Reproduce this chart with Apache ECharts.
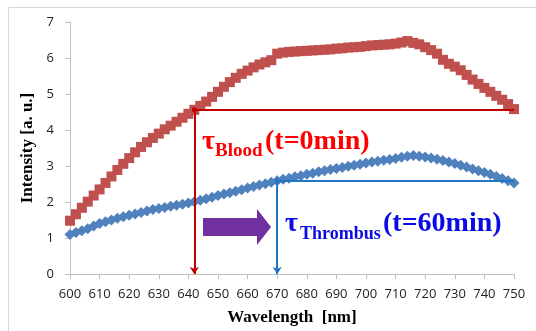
<!DOCTYPE html>
<html>
<head>
<meta charset="utf-8">
<script src="https://cdn.jsdelivr.net/npm/echarts@6/dist/echarts.min.js"></script>
<style>
html,body{margin:0;padding:0;background:#fff;}
#chart{width:536px;height:331px;}
</style>
</head>
<body>
<div id="chart"></div>
<script>
// Wavelength (nm)
var wavelengths = [600,602,604,606,608,610,612,614,616,618,620,622,624,626,628,630,632,634,636,638,640,642,644,646,648,650,652,654,656,658,660,662,664,666,668,670,672,674,676,678,680,682,684,686,688,690,692,694,696,698,700,702,704,706,708,710,712,714,716,718,720,722,724,726,728,730,732,734,736,738,740,742,744,746,748,750];
// Blood (t=0 min) intensity
var bloodValues = [1.48,1.66,1.84,2.01,2.18,2.35,2.53,2.71,2.89,3.06,3.22,3.38,3.53,3.66,3.78,3.90,4.02,4.12,4.23,4.34,4.45,4.56,4.67,4.79,4.92,5.06,5.20,5.33,5.45,5.56,5.65,5.74,5.82,5.88,5.94,6.12,6.15,6.17,6.18,6.19,6.20,6.21,6.22,6.23,6.24,6.26,6.27,6.29,6.30,6.31,6.33,6.35,6.36,6.37,6.38,6.40,6.43,6.47,6.42,6.38,6.30,6.22,6.12,5.95,5.84,5.76,5.66,5.53,5.40,5.28,5.17,5.06,4.95,4.84,4.72,4.58];
// Thrombus (t=60 min) intensity
var thrombusValues = [1.10,1.15,1.20,1.26,1.33,1.40,1.45,1.50,1.55,1.59,1.63,1.67,1.71,1.75,1.79,1.82,1.85,1.88,1.91,1.94,1.97,2.01,2.05,2.09,2.13,2.18,2.22,2.26,2.30,2.34,2.39,2.43,2.47,2.51,2.55,2.59,2.63,2.66,2.70,2.73,2.77,2.80,2.84,2.87,2.90,2.93,2.96,2.99,3.02,3.05,3.08,3.11,3.13,3.16,3.18,3.21,3.24,3.27,3.29,3.27,3.25,3.22,3.19,3.15,3.11,3.07,3.02,2.97,2.92,2.87,2.82,2.77,2.71,2.65,2.59,2.53];
// Annotation points: [wavelength, intensity]
var tauBlood = [642, 4.56];
var tauThrombus = [670, 2.58];
var xEnd = 750;
var xTicks = [600, 750, 10];
var yTicks = [0, 7, 1];

function pairs(xs, ys){ return xs.map(function(x,i){ return [x, ys[i]]; }); }

function guide(pt, color){
  return {
    symbolSize: 6,
    lineStyle: {color: color, width: 2, type: 'solid'},
    label: {show: false},
    emphasis: {disabled: true},
    z: 10,
    data: [
      [{coord: [pt[0], pt[1]], symbol: 'circle', symbolSize: 5}, {coord: [xEnd, pt[1]], symbol: 'none'}],
      [{coord: [pt[0], pt[1]], symbol: 'none'}, {coord: [pt[0], 0], symbol: 'arrow', symbolSize: 7}]
    ]
  };
}

var chart = echarts.init(document.getElementById('chart'), null, {renderer: 'canvas'});
var tickFont = {fontFamily: 'Open Sans', fontSize: 13, color: '#222'};
var option = {
  animation: false,
  backgroundColor: '#fff',
  grid: {left: 70, right: 22, top: 22, bottom: 57},
  xAxis: {
    type: 'value', min: xTicks[0], max: xTicks[1], interval: xTicks[2],
    name: 'Wavelength  [nm]', nameLocation: 'middle', nameGap: 35,
    nameTextStyle: {fontFamily: 'Liberation Serif', fontWeight: 'bold', fontSize: 17, color: '#000'},
    axisLine: {show: true, lineStyle: {color: '#BFBFBF', width: 1}},
    axisTick: {show: true, length: 5, lineStyle: {color: '#BFBFBF'}},
    axisLabel: Object.assign({margin: 14}, tickFont),
    splitLine: {show: false}
  },
  yAxis: {
    type: 'value', min: yTicks[0], max: yTicks[1], interval: yTicks[2],
    name: 'Intensity [a. u.]', nameLocation: 'middle', nameGap: 27,
    nameTextStyle: {fontFamily: 'Liberation Serif', fontWeight: 'bold', fontSize: 17, color: '#000'},
    axisLine: {show: true, lineStyle: {color: '#BFBFBF', width: 1}},
    axisTick: {show: true, length: 5, lineStyle: {color: '#BFBFBF'}},
    axisLabel: Object.assign({margin: 16}, tickFont),
    splitLine: {show: false}
  },
  series: [
    {
      type: 'line', name: 'Blood', data: pairs(wavelengths, bloodValues),
      symbol: 'rect', symbolSize: 10, showSymbol: true,
      itemStyle: {color: '#C0504D'}, lineStyle: {color: '#C0504D', width: 2},
      z: 3, markLine: guide(tauBlood, '#C00000')
    },
    {
      type: 'line', name: 'Thrombus', data: pairs(wavelengths, thrombusValues),
      symbol: 'diamond', symbolSize: 11, showSymbol: true,
      itemStyle: {color: '#4F81BD'}, lineStyle: {color: '#4F81BD', width: 2},
      z: 2, markLine: guide(tauThrombus, '#1F77C4')
    }
  ],
  graphic: [
    {type: 'rect', left: 6, top: 5, shape: {width: 600, height: 400}, style: {fill: 'none', stroke: '#D9D9D9', lineWidth: 1}, silent: true},
    {type: 'polygon', shape: {points: [[203,218],[257,218],[257,209],[271,227],[257,245],[257,236],[203,236]]}, style: {fill: '#7030A0'}, z: 20},
    {type: 'text', x: 202, y: 141.5, style: {text: 'τ', fill: '#FF0000', font: 'bold 28px "Liberation Serif"', verticalAlign: 'middle', align: 'left'}, z: 20},
    {type: 'text', x: 215, y: 151.5, style: {text: 'Blood', fill: '#FF0000', font: 'bold 19px "Liberation Serif"', verticalAlign: 'middle', align: 'left'}, z: 20},
    {type: 'text', x: 265, y: 141.5, style: {text: '(t=0min)', fill: '#FF0000', font: 'bold 28px "Liberation Serif"', verticalAlign: 'middle', align: 'left'}, z: 20},
    {type: 'text', x: 285, y: 223.5, style: {text: 'τ', fill: '#0A0AE6', font: 'bold 28px "Liberation Serif"', verticalAlign: 'middle', align: 'left'}, z: 20},
    {type: 'text', x: 300, y: 234.5, style: {text: 'Thrombus', fill: '#0A0AE6', font: 'bold 18px "Liberation Serif"', verticalAlign: 'middle', align: 'left'}, z: 20},
    {type: 'text', x: 383, y: 223.5, style: {text: '(t=60min)', fill: '#0A0AE6', font: 'bold 28px "Liberation Serif"', verticalAlign: 'middle', align: 'left'}, z: 20}
  ]
};
chart.setOption(option);
</script>
</body>
</html>
